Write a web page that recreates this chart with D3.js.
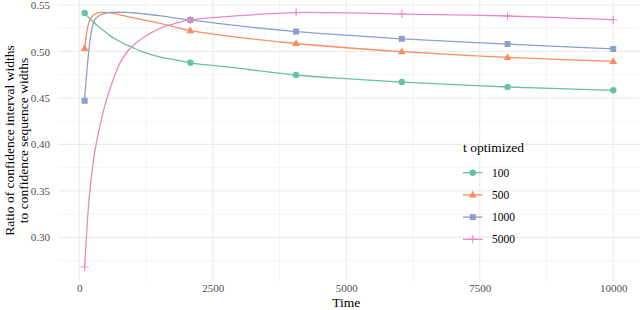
<!DOCTYPE html>
<html>
<head>
<meta charset="utf-8">
<script src="https://cdn.jsdelivr.net/npm/d3@7"></script>
<style>
  body { margin: 0; background: #fff; }
  svg text { font-family: "Liberation Serif", "Times New Roman", serif; }
</style>
</head>
<body>
<svg class="chart" width="640" height="310"></svg>
<script>
// values
var times = [100, 125, 150, 175, 200, 250, 300, 400, 500, 600, 750, 900, 1000, 1200, 1500, 1800, 2080, 3000, 4060, 5000, 6040, 8020, 10000];
var markerTimes = [100, 2080, 4060, 6040, 8020, 10000];
var seriesNames = ['100', '500', '1000', '5000'];
var ratio100  = [0.5415, 0.540, 0.538, 0.5365, 0.5352, 0.5326, 0.5298, 0.525, 0.5205, 0.516, 0.511, 0.5066, 0.5042, 0.4993, 0.4943, 0.491, 0.4878, 0.4819, 0.4747, 0.4707, 0.4671, 0.4618, 0.4582];
var ratio500  = [0.5034, 0.515, 0.524, 0.5305, 0.534, 0.5385, 0.5405, 0.542, 0.5421, 0.5413, 0.5397, 0.5376, 0.5365, 0.5341, 0.5305, 0.5262, 0.5225, 0.5152, 0.5086, 0.504, 0.4998, 0.4937, 0.4894];
var ratio1000 = [0.447, 0.468, 0.484, 0.499, 0.512, 0.528, 0.535, 0.5395, 0.5412, 0.542, 0.5422, 0.542, 0.5417, 0.5405, 0.5385, 0.536, 0.534, 0.5275, 0.5214, 0.5175, 0.5136, 0.508, 0.5027];
var ratio5000 = [0.268, 0.2935, 0.316, 0.3355, 0.351, 0.376, 0.3955, 0.4235, 0.446, 0.464, 0.4862, 0.500, 0.506, 0.515, 0.5245, 0.5303, 0.534, 0.5385, 0.5419, 0.5415, 0.5403, 0.5382, 0.5342];
var xTicks = [0, 2500, 5000, 7500, 10000];
var yTicks = [0.30, 0.35, 0.40, 0.45, 0.50, 0.55];

(function() {
  'use strict';
var width = 640,
    height = 310,
    serif = 'Liberation Serif';

var colors = ['#66c2a5', '#fc8d62', '#8da0cb', '#e78ac3'];
var shapes = ['circle', 'triangle', 'square', 'plus'];
var values = [ratio100, ratio500, ratio1000, ratio5000];

var x = d3.scaleLinear()
    .domain([-395, 10495])
    .range([58.2, 639.7]);

var y = d3.scaleLinear()
    .domain([0.2530, 0.5554])
    .range([281, 0]);

var chart = d3.select('.chart')
    .attr('width', width)
    .attr('height', height)
    .attr('font-family', serif);

// grid
var grid = chart.append('g').attr('class', 'grid');
var xMinor = xTicks.slice(0, -1).map(function(d) { return d + 1250; });
var yMinor = [0.275, 0.325, 0.375, 0.425, 0.475, 0.525];

function hLines(data, w) {
  grid.selectAll(null)
      .data(data)
    .enter().append('line')
      .attr('x1', x.range()[0]).attr('x2', x.range()[1])
      .attr('y1', function(d) { return y(d); }).attr('y2', function(d) { return y(d); })
      .attr('stroke', '#ebebeb').attr('stroke-width', w);
}
function vLines(data, w) {
  grid.selectAll(null)
      .data(data)
    .enter().append('line')
      .attr('y1', y.range()[0]).attr('y2', y.range()[1])
      .attr('x1', function(d) { return x(d); }).attr('x2', function(d) { return x(d); })
      .attr('stroke', '#ebebeb').attr('stroke-width', w);
}
hLines(yMinor, 0.55);
vLines(xMinor, 0.55);
hLines(yTicks, 1.1);
vLines(xTicks, 1.1);

// axes (labels only, like theme_minimal)
var xAxis = d3.axisBottom(x)
    .tickValues(xTicks)
    .tickSize(0)
    .tickPadding(0)
    .tickFormat(d3.format('d'));

var yAxis = d3.axisLeft(y)
    .tickValues(yTicks)
    .tickSize(0)
    .tickPadding(0)
    .tickFormat(d3.format('.2f'));

chart.append('g')
    .attr('class', 'x axis')
    .attr('transform', 'translate(0,284)')
    .call(xAxis);

chart.append('g')
    .attr('class', 'y axis')
    .attr('transform', 'translate(50,0)')
    .call(yAxis);

chart.selectAll('.axis').attr('font-family', serif).attr('font-size', 11);
chart.selectAll('.axis .domain').remove();
chart.selectAll('.axis text')
    .attr('fill', '#4d4d4d')
    .attr('font-family', serif);

// x label
chart.append('text')
    .attr('x', x(5000))
    .attr('y', 307)
    .attr('font-family', serif)
    .attr('font-size', 13.5)
    .style('text-anchor', 'middle')
    .text('Time');

// y label
var yl = chart.append('text')
    .attr('transform', 'rotate(-90)')
    .attr('font-family', serif)
    .attr('font-size', 13.5)
    .style('text-anchor', 'middle');
yl.append('tspan')
    .attr('x', -140.5).attr('y', 14)
    .text('Ratio of confidence interval widths');
yl.append('tspan')
    .attr('x', -140.5).attr('y', 28)
    .text('to confidence sequence widths');

// lines
var line = d3.line()
    .x(function(d) { return x(d.t); })
    .y(function(d) { return y(d.v); })
    .curve(d3.curveCatmullRom.alpha(0.5));

var series = seriesNames.map(function(name, i) {
  return {
    name: name,
    color: colors[i],
    shape: shapes[i],
    points: times.map(function(t, j) { return {t: t, v: values[i][j]}; })
  };
});

function marker(g, shape, color) {
  if (shape === 'circle') {
    g.append('circle').attr('r', 3.2).attr('fill', color);
  } else if (shape === 'triangle') {
    g.append('path').attr('d', 'M0,-4.2L3.9,2.6L-3.9,2.6Z').attr('fill', color);
  } else if (shape === 'square') {
    g.append('rect').attr('x', -3).attr('y', -3).attr('width', 6).attr('height', 6).attr('fill', color);
  } else {
    g.append('path').attr('d', 'M-4,0H4M0,-4V4').attr('stroke', color).attr('stroke-width', 1.1).attr('fill', 'none');
  }
}

var sg = chart.selectAll('.series')
    .data(series)
  .enter().append('g')
    .attr('class', 'series');

sg.append('path')
    .attr('d', function(d) { return line(d.points); })
    .attr('fill', 'none')
    .attr('stroke', function(d) { return d.color; })
    .attr('stroke-width', 1.3);

sg.each(function(d) {
  var g = d3.select(this);
  d.points.filter(function(p) { return markerTimes.indexOf(p.t) >= 0; })
    .forEach(function(p) {
      var m = g.append('g').attr('transform', 'translate(' + x(p.t) + ',' + y(p.v) + ')');
      marker(m, d.shape, d.color);
    });
});

// legend
var legend = chart.append('g')
    .attr('transform', 'translate(463,0)');

legend.append('text')
    .attr('x', 0)
    .attr('y', 152)
    .attr('font-family', serif)
    .attr('font-size', 13.5)
    .text('t optimized');

var item = legend.selectAll('.item')
    .data(series)
  .enter().append('g')
    .attr('class', 'item')
    .attr('transform', function(d, i) { return 'translate(0,' + (172.7 + i * 22.2) + ')'; });

item.append('line')
    .attr('x1', 0).attr('x2', 19.5)
    .attr('stroke', function(d) { return d.color; })
    .attr('stroke-width', 1.3);

item.each(function(d) {
  var m = d3.select(this).append('g').attr('transform', 'translate(9.75,0)');
  marker(m, d.shape, d.color);
});

item.append('text')
    .attr('x', 29)
    .attr('y', 4)
    .attr('font-family', serif)
    .attr('font-size', 11.5)
    .text(function(d) { return d.name; });
}());
</script>
</body>
</html>
